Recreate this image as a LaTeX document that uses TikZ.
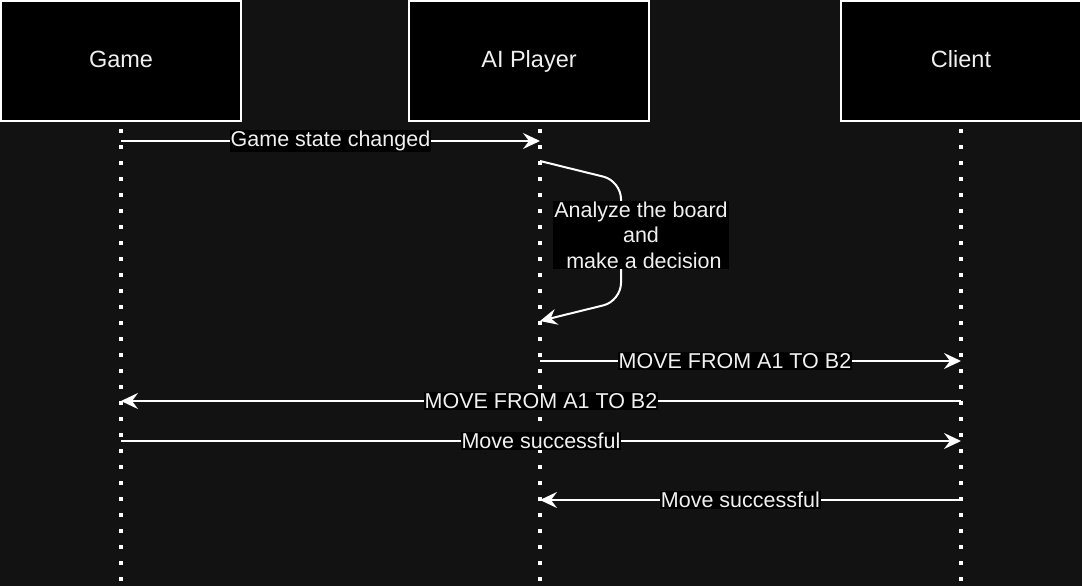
\documentclass[tikz,border=0pt]{standalone}
\usepackage{fontspec}
\setmainfont{Liberation Sans}
\usepackage{xcolor}
\usetikzlibrary{arrows.meta}
\definecolor{canvasGray}{RGB}{18, 18, 18}
\definecolor{labelWhite}{RGB}{240, 240, 240}

\begin{document}
\begin{tikzpicture}[x=1pt, y=-1pt,
    actor/.style={draw=white, line width=2pt, fill=black, text=labelWhite, minimum width=240pt, minimum height=120pt, text height=17pt, text depth=3pt, font=\fontsize{23.5}{28}\selectfont},
    lifeline/.style={draw=white, line width=4pt, dash pattern=on 4pt off 12pt, dash phase=8pt},
    msg/.style={draw=white, line width=2pt, -{Stealth[length=17pt, width=16pt, inset=6pt]}},
    msglabel/.style={fill=black, text=labelWhite, inner sep=1pt, font=\fontsize{21.5}{25.5}\selectfont}]
    \useasboundingbox[fill=canvasGray] (0,0) rectangle (1082,586);
    \node[actor] (game) at (121,61) {Game};
    \node[actor] (ai) at (529,61) {AI Player};
    \node[actor] (client) at (961,61) {Client};
    % lifeline anchors, one row per message
    \foreach \i/\y in {0/121,1/141,2/161,3/321,4/361,5/401,6/441,7/500,8/586}{
        \coordinate (g\i) at (121,\y);
        \coordinate (a\i) at (540,\y);
        \coordinate (c\i) at (961,\y);
    }
    \coordinate (turn1) at (621,181);
    \coordinate (turn2) at (621,301);
    \draw[lifeline] (g0) -- (g8);
    \draw[lifeline] (a0) -- (a8);
    \draw[lifeline] (c0) -- (c8);
    \draw[msg] (g1) -- node[msglabel, pos=0.5] (stateLbl) {Game state changed} (a1);
    \draw[msg, rounded corners=18pt] (a2) -- (turn1) -- (turn2) -- (a3);
    \node[msglabel, align=center] (thinkLbl) at (641,235) {Analyze the board\\and\\\ make a decision};
    \draw[msg] (a4) -- node[msglabel, pos=0.463] (moveLbl1) {MOVE FROM A1 TO B2} (c4);
    \draw[msg] (c5) -- node[msglabel, pos=0.5] (moveLbl2) {MOVE FROM A1 TO B2} (g5);
    \draw[msg] (g6) -- node[msglabel, pos=0.5] (okLbl1) {Move successful} (c6);
    \draw[msg] (c7) -- node[msglabel, pos=0.524] (okLbl2) {Move successful} (a7);
\end{tikzpicture}
\end{document}
